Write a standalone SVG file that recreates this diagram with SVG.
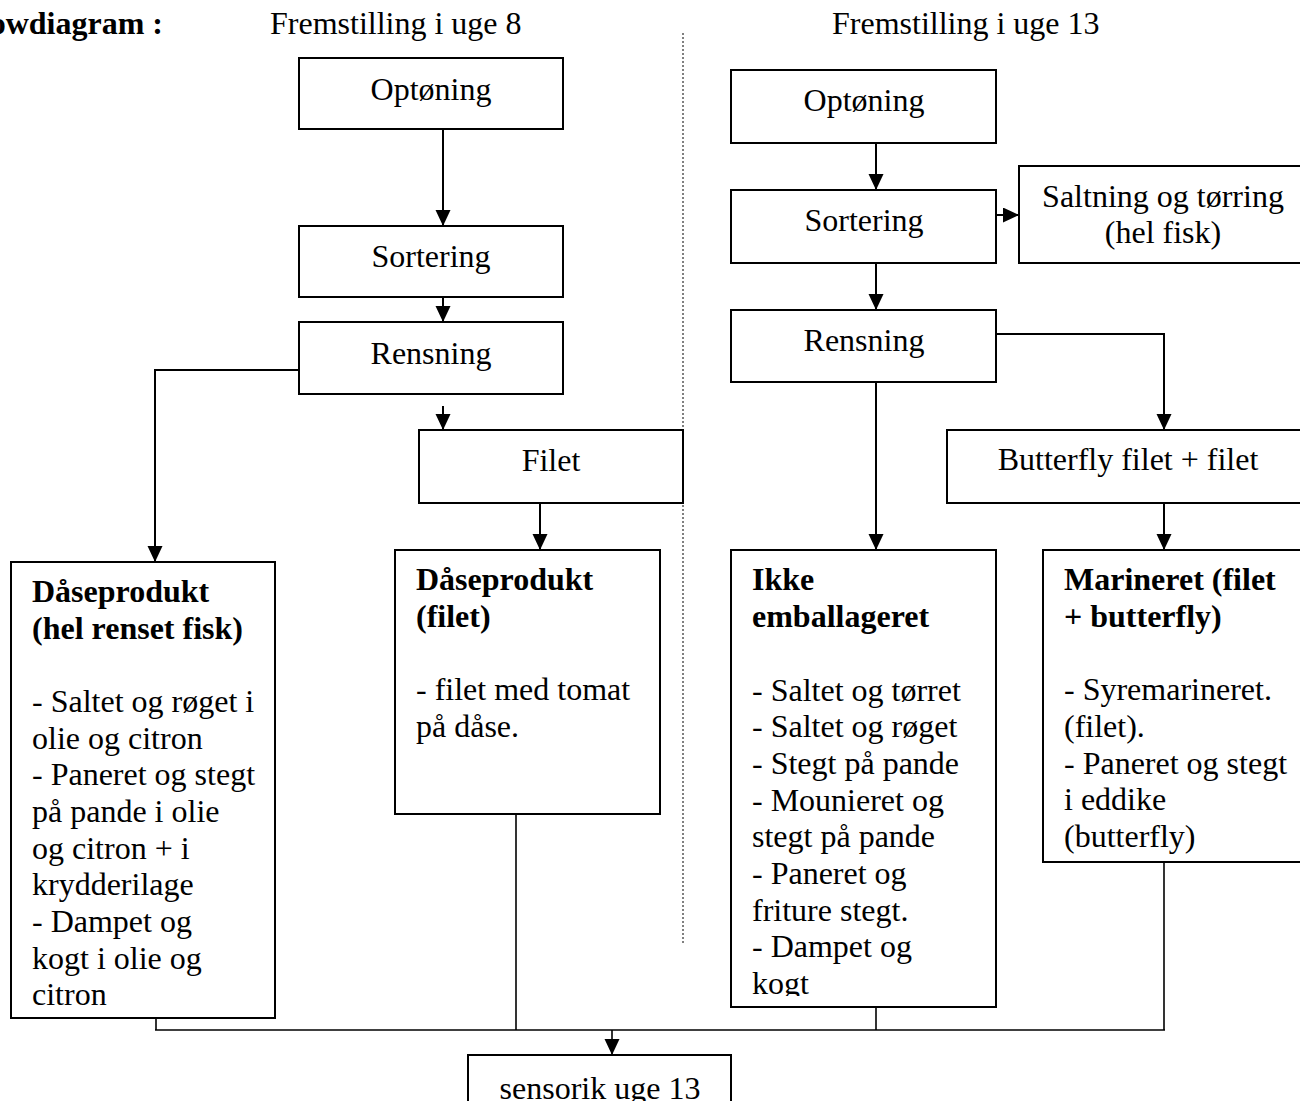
<svg xmlns="http://www.w3.org/2000/svg" width="1300" height="1101" viewBox="0 0 1300 1101">
<style>
text{font-family:"Liberation Serif","Times New Roman",serif;font-size:32px;fill:#000}
.b{font-weight:bold}
.c{text-anchor:middle}
.box{fill:#fff;stroke:#000;stroke-width:2}
.con{fill:none;stroke:#000;stroke-width:2}
.bus{fill:none;stroke:#000;stroke-width:1.6}
</style>
<defs>
<marker id="ah" markerUnits="userSpaceOnUse" markerWidth="16" markerHeight="16" refX="16" refY="7.5" orient="auto">
<path d="M0,0 L16,7.5 L0,15 z" fill="#000"/>
</marker>
<clipPath id="ikkeclip"><rect x="731" y="550" width="265" height="446"/></clipPath>
</defs>
<rect width="1300" height="1101" fill="#fff"/>

<g id="headers">
<text class="b" x="163" y="34" text-anchor="end">Flowdiagram :</text>
<text x="270" y="34">Fremstilling i uge 8</text>
<text x="832" y="34">Fremstilling i uge 13</text>
<line x1="683" y1="33" x2="683" y2="943" stroke="#000" stroke-width="1" stroke-dasharray="2 2"/>
</g>

<g id="connectors">
<line class="con" x1="443" y1="129" x2="443" y2="226" marker-end="url(#ah)"/>
<line class="con" x1="443" y1="297" x2="443" y2="322" marker-end="url(#ah)"/>
<polyline class="con" points="299,370 155,370 155,562" marker-end="url(#ah)"/>
<line class="con" x1="443" y1="406" x2="443" y2="430" marker-end="url(#ah)"/>
<line class="con" x1="540" y1="503" x2="540" y2="550" marker-end="url(#ah)"/>
<line class="con" x1="876" y1="143" x2="876" y2="190" marker-end="url(#ah)"/>
<line class="con" x1="996" y1="215" x2="1019" y2="215" marker-end="url(#ah)"/>
<line class="con" x1="876" y1="263" x2="876" y2="310" marker-end="url(#ah)"/>
<line class="con" x1="876" y1="382" x2="876" y2="550" marker-end="url(#ah)"/>
<polyline class="con" points="996,334 1164,334 1164,430" marker-end="url(#ah)"/>
<line class="con" x1="1164" y1="503" x2="1164" y2="550" marker-end="url(#ah)"/>
<line class="bus" x1="156" y1="1006" x2="156" y2="1030"/>
<line class="bus" x1="516" y1="814" x2="516" y2="1030"/>
<line class="bus" x1="876" y1="1007" x2="876" y2="1030"/>
<line class="bus" x1="1164" y1="862" x2="1164" y2="1030"/>
<line class="bus" x1="155" y1="1030" x2="1165" y2="1030"/>
<line class="bus" x1="612" y1="1030" x2="612" y2="1055" marker-end="url(#ah)"/>
</g>

<g id="optoning8">
<rect class="box" x="299" y="58" width="264" height="71"/>
<text class="c" x="431" y="100">Optøning</text>
</g>
<g id="sortering8">
<rect class="box" x="299" y="226" width="264" height="71"/>
<text class="c" x="431" y="267">Sortering</text>
</g>
<g id="rensning8">
<rect class="box" x="299" y="322" width="264" height="72"/>
<text class="c" x="431" y="364">Rensning</text>
</g>
<g id="filet8">
<rect class="box" x="419" y="430" width="264" height="73"/>
<text class="c" x="551" y="471">Filet</text>
</g>
<g id="daase-hel">
<rect class="box" x="11" y="562" width="264" height="456"/>
<text class="b" x="32" y="602">Dåseprodukt</text>
<text class="b" x="32" y="639">(hel renset fisk)</text>
<text x="32" y="712">- Saltet og røget i</text>
<text x="32" y="749">olie og citron</text>
<text x="32" y="785">- Paneret og stegt</text>
<text x="32" y="822">på pande i olie</text>
<text x="32" y="859">og citron +  i</text>
<text x="32" y="895">krydderilage</text>
<text x="32" y="932">- Dampet og</text>
<text x="32" y="969">kogt i olie og</text>
<text x="32" y="1005">citron</text>
</g>
<g id="daase-filet">
<rect class="box" x="395" y="550" width="265" height="264"/>
<text class="b" x="416" y="590">Dåseprodukt</text>
<text class="b" x="416" y="627">(filet)</text>
<text x="416" y="700">- filet med tomat</text>
<text x="416" y="737">på dåse.</text>
</g>

<g id="optoning13">
<rect class="box" x="731" y="70" width="265" height="73"/>
<text class="c" x="864" y="111">Optøning</text>
</g>
<g id="sortering13">
<rect class="box" x="731" y="190" width="265" height="73"/>
<text class="c" x="864" y="231">Sortering</text>
</g>
<g id="saltning">
<rect class="box" x="1019" y="166" width="290" height="97"/>
<text class="c" x="1163" y="207">Saltning og tørring</text>
<text class="c" x="1163" y="243">(hel fisk)</text>
</g>
<g id="rensning13">
<rect class="box" x="731" y="310" width="265" height="72"/>
<text class="c" x="864" y="351">Rensning</text>
</g>
<g id="butterfly">
<rect class="box" x="947" y="430" width="362" height="73"/>
<text class="c" x="1128" y="470">Butterfly filet + filet</text>
</g>
<g id="ikke-emballageret">
<rect class="box" x="731" y="550" width="265" height="457"/>
<g clip-path="url(#ikkeclip)">
<text class="b" x="752" y="590">Ikke</text>
<text class="b" x="752" y="627">emballageret</text>
<text x="752" y="701">- Saltet og tørret</text>
<text x="752" y="737">- Saltet og røget</text>
<text x="752" y="774">- Stegt på pande</text>
<text x="752" y="811">- Mounieret og</text>
<text x="752" y="847">stegt på pande</text>
<text x="752" y="884">- Paneret og</text>
<text x="752" y="921">friture stegt.</text>
<text x="752" y="957">- Dampet og</text>
<text x="752" y="994">kogt</text>
</g>
</g>
<g id="marineret">
<rect class="box" x="1043" y="550" width="266" height="312"/>
<text class="b" x="1064" y="590">Marineret (filet</text>
<text class="b" x="1064" y="627">+ butterfly)</text>
<text x="1064" y="700">- Syremarineret.</text>
<text x="1064" y="737">(filet).</text>
<text x="1064" y="774">- Paneret og stegt</text>
<text x="1064" y="810">i eddike</text>
<text x="1064" y="847">(butterfly)</text>
</g>
<g id="sensorik">
<rect class="box" x="468" y="1055" width="263" height="60"/>
<text class="c" x="600" y="1099">sensorik uge 13</text>
</g>
</svg>
